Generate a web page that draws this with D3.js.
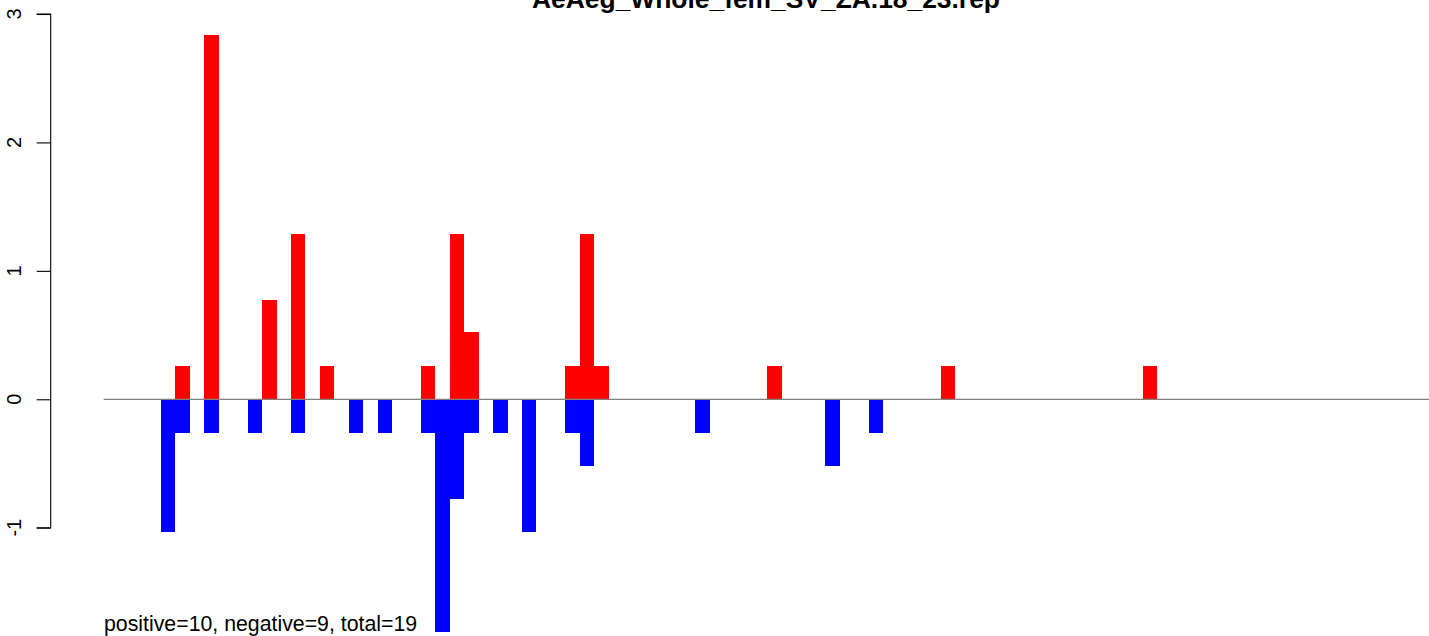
<!DOCTYPE html>
<html>
<head>
<meta charset="utf-8">
<script src="https://cdn.jsdelivr.net/npm/d3@7"></script>
<style>
  html, body { margin: 0; padding: 0; background: #fff; }
  svg { display: block; }
  text { font-family: "Liberation Sans", Arial, Helvetica, sans-serif; }
</style>
</head>
<body>
<script>
// ---- data ----
const title = "AeAeg_Whole_fem_SV_ZA.18_23.rep";
const summary = "positive=10, negative=9, total=19";
const yTicks = [-1, 0, 1, 2, 3];
// bin positions and values for positive (red) bars
const posBins   = [1, 3, 7, 9, 11, 18, 20, 21, 28, 29, 30, 42, 54, 68];
const posValues = [0.26, 2.84, 0.77, 1.29, 0.26, 0.26, 1.29, 0.52, 0.26, 1.29, 0.26, 0.26, 0.26, 0.26];
// bin positions and values for negative (blue) bars
const negBins   = [0, 1, 3, 6, 9, 13, 15, 18, 19, 20, 21, 23, 25, 28, 29, 37, 46, 49];
const negValues = [-1.03, -0.26, -0.26, -0.26, -0.26, -0.26, -0.26, -0.26, -1.81, -0.78, -0.26, -0.26, -1.03, -0.26, -0.52, -0.26, -0.52, -0.26];
const xExtent = [-3.97, 87.95];

// ---- layout ----
const W = 1429, H = 636;
const svg = d3.select("body").append("svg").attr("width", W).attr("height", H);

const x = d3.scaleLinear().domain(xExtent).range([103.7, 1431]);
const y = d3.scaleLinear().domain([-1, 3]).range([527.7, 14]);

const pos = posBins.map((b, i) => ({ b, v: posValues[i] }));
const neg = negBins.map((b, i) => ({ b, v: negValues[i] }));

// positive bars
svg.append("g").selectAll("rect").data(pos).join("rect")
  .attr("x", d => x(d.b))
  .attr("width", d => x(d.b + 1) - x(d.b))
  .attr("y", d => y(d.v))
  .attr("height", d => y(0) - y(d.v))
  .attr("fill", "#ff0000")
  .attr("shape-rendering", "crispEdges");

// negative bars
svg.append("g").selectAll("rect").data(neg).join("rect")
  .attr("x", d => x(d.b))
  .attr("width", d => x(d.b + 1) - x(d.b))
  .attr("y", y(0))
  .attr("height", d => y(d.v) - y(0))
  .attr("fill", "#0000ff")
  .attr("shape-rendering", "crispEdges");

// zero line
svg.append("line")
  .attr("x1", x(xExtent[0])).attr("x2", x(xExtent[1]))
  .attr("y1", y(0)).attr("y2", y(0))
  .attr("stroke", "#808080").attr("stroke-width", 1.2);

// y axis
const axisG = svg.append("g").attr("transform", "translate(50.7,0)");
axisG.call(d3.axisLeft(y).tickValues(yTicks).tickSize(14).tickFormat(""));
axisG.select(".domain").attr("d", `M-14,${y(3)}H0V${y(-1)}H-14`).attr("stroke", "#000").attr("stroke-width", 1.1);
axisG.selectAll(".tick line").attr("stroke", "#000").attr("stroke-width", 1.1);

svg.append("g").selectAll("text").data(yTicks).join("text")
  .attr("transform", d => `translate(20.5,${y(d)}) rotate(-90)`)
  .attr("text-anchor", "middle")
  .attr("font-size", 20)
  .attr("fill", "#000")
  .text(d => String(d));

// title (cut at the top edge, as in the reference)
svg.append("text")
  .attr("x", 766).attr("y", 8)
  .attr("text-anchor", "middle")
  .attr("font-size", 26.4)
  .attr("font-weight", "bold")
  .attr("fill", "#000")
  .text(title);

// summary
svg.append("text")
  .attr("x", 104).attr("y", 631)
  .attr("font-size", 21.3)
  .attr("fill", "#000")
  .text(summary);
</script>
</body>
</html>
